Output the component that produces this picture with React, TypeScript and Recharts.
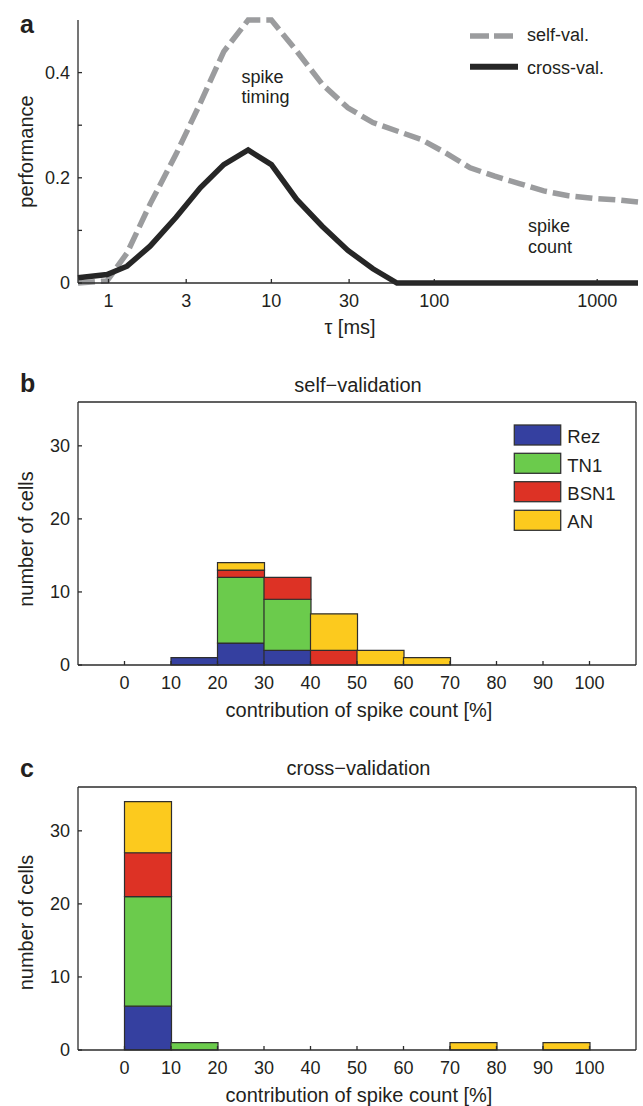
import React from 'react';
import { LineChart, ComposedChart, Line, Bar, XAxis, YAxis } from 'recharts';

// panel a: performance vs time constant
const TAU = [0.65, 0.98, 1.3, 1.8, 2.6, 3.66, 5.1, 7.2, 10, 14.3, 20.5, 29.5, 42, 59, 83, 118, 166, 235, 333, 470, 665, 940, 1330, 1780];
const SELF_VAL = [0, 0.004, 0.057, 0.15, 0.245, 0.342, 0.44, 0.5, 0.5, 0.441, 0.378, 0.333, 0.305, 0.289, 0.273, 0.247, 0.219, 0.203, 0.189, 0.175, 0.166, 0.161, 0.158, 0.154];
const CROSS_VAL = [0.01, 0.016, 0.032, 0.07, 0.125, 0.181, 0.225, 0.253, 0.225, 0.159, 0.108, 0.062, 0.027, 0, 0, 0, 0, 0, 0, 0, 0, 0, 0, 0];
const TAU_TICKS = [1, 3, 10, 30, 100, 1000];
const PERF_TICKS = [0, 0.1, 0.2, 0.3, 0.4];
const PERF_LABELS = ['0', '', '0.2', '', '0.4'];

// panels b, c: histograms of spike count contribution (bins of 10 %)
const BIN_MID = [5, 15, 25, 35, 45, 55, 65, 75, 85, 95];
const BIN_TICKS = [0, 10, 20, 30, 40, 50, 60, 70, 80, 90, 100];
const COUNT_TICKS = [0, 10, 20, 30];

const REZ_SELF = [0, 1, 3, 2, 0, 0, 0, 0, 0, 0];
const TN1_SELF = [0, 0, 9, 7, 0, 0, 0, 0, 0, 0];
const BSN1_SELF = [0, 0, 1, 3, 2, 0, 0, 0, 0, 0];
const AN_SELF = [0, 0, 1, 0, 5, 2, 1, 0, 0, 0];

const REZ_CROSS = [6, 0, 0, 0, 0, 0, 0, 0, 0, 0];
const TN1_CROSS = [15, 1, 0, 0, 0, 0, 0, 0, 0, 0];
const BSN1_CROSS = [6, 0, 0, 0, 0, 0, 0, 0, 0, 0];
const AN_CROSS = [7, 0, 0, 0, 0, 0, 0, 1, 0, 1];

const CELL_TYPES = ['Rez', 'TN1', 'BSN1', 'AN'];
const CELL_COLORS = ['#3540a0', '#6bcb4c', '#dd3225', '#fcca1e'];

const FONT = '"Liberation Sans", Arial, Helvetica, sans-serif';
const INK = '#231f20';
const AXIS = '#2b2b2b';
const axisLine = { stroke: AXIS, strokeWidth: 1.3 };
const tickLine = { stroke: AXIS, strokeWidth: 1.3 };
const tickStyle = { fontSize: 18, fill: INK, fontFamily: FONT };

const perfData = TAU.map((tau, i) => ({ tau, self: SELF_VAL[i], cross: CROSS_VAL[i] }));

const histData = (rez: number[], tn1: number[], bsn1: number[], an: number[]) =>
  BIN_MID.map((mid, i) => ({ mid, Rez: rez[i], TN1: tn1[i], BSN1: bsn1[i], AN: an[i] }));

const selfData = histData(REZ_SELF, TN1_SELF, BSN1_SELF, AN_SELF);
const crossData = histData(REZ_CROSS, TN1_CROSS, BSN1_CROSS, AN_CROSS);

function Histogram({ data }: { data: any[] }) {
  return (
    <ComposedChart width={643} height={345} data={data} margin={{ top: 41, right: 6, bottom: 0, left: 0 }} barCategoryGap={0} barGap={0}>
      <XAxis xAxisId="bottom" dataKey="mid" type="number" domain={[-10, 110]} ticks={BIN_TICKS} interval={0}
        height={40} tickSize={-4} tickMargin={15} axisLine={axisLine} tickLine={tickLine}
        tick={tickStyle} fontSize={18} fontFamily={FONT} />
      <XAxis xAxisId="top" orientation="top" dataKey="mid" type="number" domain={[-10, 110]} ticks={BIN_TICKS} interval={0}
        height={1} tickSize={-4} axisLine={axisLine} tickLine={tickLine} tick={false} />
      <YAxis yAxisId="left" width={78} domain={[0, 36]} ticks={COUNT_TICKS} interval={0}
        tickSize={-4} tickMargin={12} axisLine={axisLine} tickLine={tickLine}
        tick={tickStyle} fontSize={18} fontFamily={FONT} />
      <YAxis yAxisId="right" orientation="right" width={1} domain={[0, 36]} ticks={COUNT_TICKS} interval={0}
        tickSize={-4} axisLine={axisLine} tickLine={tickLine} tick={false} />
      {CELL_TYPES.map((name, i) => (
        <Bar key={name} xAxisId="bottom" yAxisId="left" dataKey={name} stackId="s"
          fill={CELL_COLORS[i]} stroke="#2e2e2e" strokeWidth={1.2} isAnimationActive={false} />
      ))}
      {/* invisible series so that the top and right box axes get drawn */}
      <Line xAxisId="top" yAxisId="right" dataKey="Rez" stroke="none" dot={false} activeDot={false}
        legendType="none" isAnimationActive={false} />
    </ComposedChart>
  );
}

export default function App() {
  const txt = { fontFamily: FONT, fill: INK };
  return (
    <div style={{ position: 'absolute', left: 0, top: 0, width: 643, height: 1106, background: '#fff' }}>
      <div style={{ position: 'absolute', left: 0, top: 0 }}>
        <LineChart width={643} height={340} data={perfData} margin={{ top: 20, right: 5, bottom: 0, left: 0 }}>
          <XAxis dataKey="tau" type="number" scale="log" domain={[0.65, 1780]} ticks={TAU_TICKS} interval={0}
            height={57} tickSize={-4} tickMargin={15} axisLine={axisLine} tickLine={tickLine}
            tick={tickStyle} fontSize={18} fontFamily={FONT} />
          <YAxis width={78} domain={[0, 0.5]} ticks={PERF_TICKS} interval={0}
            tickFormatter={(v: number, i: number) => PERF_LABELS[i]}
            tickSize={-4} tickMargin={12} axisLine={axisLine} tickLine={tickLine}
            tick={tickStyle} fontSize={18} fontFamily={FONT} />
          <Line dataKey="self" type="linear" stroke="#9b9c9e" strokeWidth={5.5} strokeDasharray="17 6" dot={false} isAnimationActive={false} />
          <Line dataKey="cross" type="linear" stroke="#262626" strokeWidth={5.5} dot={false} isAnimationActive={false} />
        </LineChart>
      </div>
      <div style={{ position: 'absolute', left: 0, top: 360 }}>
        <Histogram data={selfData} />
      </div>
      <div style={{ position: 'absolute', left: 0, top: 745 }}>
        <Histogram data={crossData} />
      </div>

      <svg width={643} height={1106} style={{ position: 'absolute', left: 0, top: 0, pointerEvents: 'none' }}>
        {/* panel letters */}
        <text x={20} y={33} fontSize={25} fontWeight="bold" {...txt}>a</text>
        <text x={20} y={392} fontSize={25} fontWeight="bold" {...txt}>b</text>
        <text x={20} y={777} fontSize={25} fontWeight="bold" {...txt}>c</text>

        {/* panel a legend */}
        <line x1={470} x2={513} y1={36} y2={36} stroke="#9b9c9e" strokeWidth={5.5} strokeDasharray="19 5" />
        <text x={527} y={41} fontSize={18} {...txt}>self-val.</text>
        <line x1={470} x2={518} y1={66.7} y2={66.7} stroke="#262626" strokeWidth={6} />
        <text x={527} y={74} fontSize={18} {...txt}>cross-val.</text>

        {/* panel a annotations */}
        <text x={241.5} y={83} fontSize={18} {...txt}>spike</text>
        <text x={241.5} y={103} fontSize={18} {...txt}>timing</text>
        <text x={528} y={232} fontSize={18} {...txt}>spike</text>
        <text x={528} y={253} fontSize={18} {...txt}>count</text>

        {/* axis labels */}
        <text x={350} y={333.5} fontSize={20} textAnchor="middle" {...txt}>τ [ms]</text>
        <text transform="translate(33,151.5) rotate(-90)" fontSize={20} textAnchor="middle" {...txt}>performance</text>

        <text x={358} y={391.7} fontSize={20} textAnchor="middle" {...txt}>self−validation</text>
        <text transform="translate(33,539) rotate(-90)" fontSize={20} textAnchor="middle" {...txt}>number of cells</text>
        <text x={359} y={716.5} fontSize={20} textAnchor="middle" {...txt}>contribution of spike count [%]</text>

        <text x={358.5} y={775} fontSize={20} textAnchor="middle" {...txt}>cross−validation</text>
        <text transform="translate(33,922.5) rotate(-90)" fontSize={20} textAnchor="middle" {...txt}>number of cells</text>
        <text x={359} y={1102} fontSize={20} textAnchor="middle" {...txt}>contribution of spike count [%]</text>

        {/* panel b legend */}
        <rect x={514.3} y={425} width={46.4} height={20} fill={CELL_COLORS[0]} stroke="#333" strokeWidth={1.3} />
        <rect x={514.3} y={453.3} width={46.4} height={20} fill={CELL_COLORS[1]} stroke="#333" strokeWidth={1.3} />
        <rect x={514.3} y={481.7} width={46.4} height={20} fill={CELL_COLORS[2]} stroke="#333" strokeWidth={1.3} />
        <rect x={514.3} y={510.3} width={46.4} height={20} fill={CELL_COLORS[3]} stroke="#333" strokeWidth={1.3} />
        <text x={567.3} y={443} fontSize={18.5} {...txt}>{CELL_TYPES[0]}</text>
        <text x={567.3} y={472} fontSize={18.5} {...txt}>{CELL_TYPES[1]}</text>
        <text x={567.3} y={500} fontSize={18.5} {...txt}>{CELL_TYPES[2]}</text>
        <text x={567.3} y={528.3} fontSize={18.5} {...txt}>{CELL_TYPES[3]}</text>
      </svg>
    </div>
  );
}
